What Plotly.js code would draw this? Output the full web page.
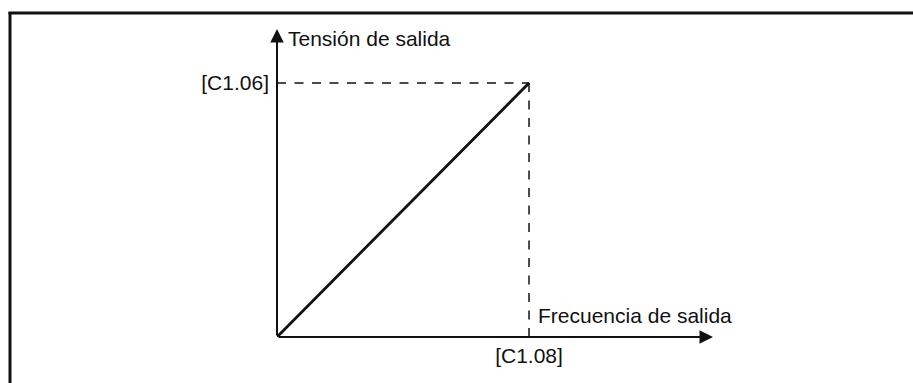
<!DOCTYPE html>
<html>
<head>
<meta charset="utf-8">
<script src="https://cdn.plot.ly/plotly-3.0.1.min.js"></script>
<style>
  html, body { margin: 0; padding: 0; background: #fff; }
  #chart { width: 913px; height: 383px; }
</style>
</head>
<body>
<div id="chart"></div>
<script>
// Curva V/f lineal: de 0 hasta el punto ([C1.08], [C1.06])
const freqPoints = [0, 1];
const voltPoints = [0, 1];
const xTickLabel = '[C1.08]';
const yTickLabel = '[C1.06]';
const xAxisTitle = 'Frecuencia de salida';
const yAxisTitle = 'Tensión de salida';

const INK = '#111';
const FONT = { family: 'Liberation Sans, Arial, sans-serif', size: 21, color: INK };

// área de trazado en píxeles
const W = 913, H = 383;
const margin = { l: 277, r: 200, t: 29, b: 46, pad: 0 };
const plotW = W - margin.l - margin.r;
const plotH = H - margin.t - margin.b;
const xMax = 1.730;
const yMax = 1.2126;

// px de la página -> coordenadas paper
const px2paperX = px => (px - margin.l) / plotW;
const px2paperY = py => (H - margin.b - py) / plotH;

const xEnd = freqPoints[freqPoints.length - 1];
const yEnd = voltPoints[voltPoints.length - 1];

const traces = [
  {
    x: [0, xEnd], y: [yEnd, yEnd],
    type: 'scatter', mode: 'lines',
    line: { color: INK, width: 1.5, dash: '9px,8.5px' },
    hoverinfo: 'skip', cliponaxis: false
  },
  {
    x: [xEnd, xEnd], y: [0, yEnd],
    type: 'scatter', mode: 'lines',
    line: { color: INK, width: 1.5, dash: '9px,8.5px' },
    hoverinfo: 'skip', cliponaxis: false
  },
  {
    x: freqPoints, y: voltPoints,
    type: 'scatter', mode: 'lines',
    line: { color: INK, width: 2.8 },
    cliponaxis: false
  }
];

const axisArrow = (x, y, ax, ay) => ({
  x: x, y: y, ax: ax, ay: ay,
  xref: 'x', yref: 'y', axref: 'x', ayref: 'y',
  text: '', showarrow: true,
  arrowhead: 2, arrowsize: 1.35, arrowwidth: 2, arrowcolor: INK,
  standoff: 0, startstandoff: 0
});

const layout = {
  width: W,
  height: H,
  margin: margin,
  paper_bgcolor: '#fff',
  plot_bgcolor: 'rgba(0,0,0,0)',
  showlegend: false,
  font: FONT,
  xaxis: {
    range: [0, xMax],
    showgrid: false, zeroline: false, showline: false,
    tickvals: [xEnd], ticktext: [xTickLabel],
    ticks: '', ticklabelstandoff: 4,
    tickfont: FONT, fixedrange: true
  },
  yaxis: {
    range: [0, yMax],
    showgrid: false, zeroline: false, showline: false,
    tickvals: [yEnd], ticktext: [yTickLabel],
    ticks: '', ticklabelstandoff: 7,
    tickfont: FONT, fixedrange: true
  },
  annotations: [
    axisArrow(xMax, 0, 0, 0),
    axisArrow(0, yMax, 0, 0),
    {
      x: 0, y: yMax, xref: 'x', yref: 'y',
      text: yAxisTitle, showarrow: false,
      xanchor: 'left', yanchor: 'middle',
      xshift: 9, yshift: -9, font: FONT
    },
    {
      x: xEnd, y: 0, xref: 'x', yref: 'y',
      text: xAxisTitle, showarrow: false,
      xanchor: 'left', yanchor: 'middle',
      xshift: 7, yshift: 22, font: FONT
    }
  ],
  shapes: [
    // marco exterior (solo se ven los bordes superior e izquierdo)
    {
      type: 'line', xref: 'paper', yref: 'paper',
      x0: px2paperX(10), x1: px2paperX(10),
      y0: px2paperY(H + 5), y1: px2paperY(12),
      line: { color: INK, width: 3 }
    },
    {
      type: 'line', xref: 'paper', yref: 'paper',
      x0: px2paperX(8.5), x1: px2paperX(W + 5),
      y0: px2paperY(13), y1: px2paperY(13),
      line: { color: INK, width: 3 }
    }
  ]
};

Plotly.newPlot('chart', traces, layout, { displayModeBar: false, staticPlot: true });
</script>
</body>
</html>
